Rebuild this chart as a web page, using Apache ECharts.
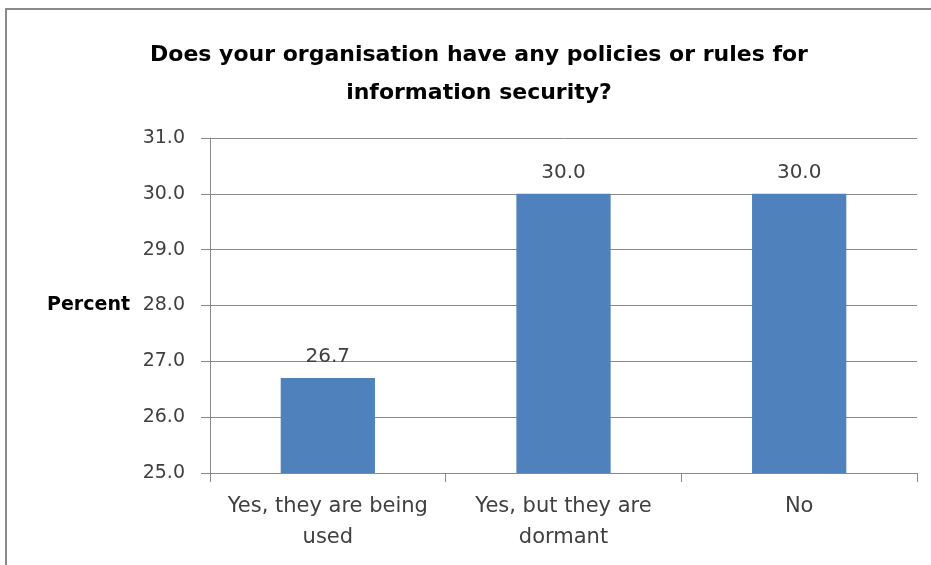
<!DOCTYPE html>
<html><head><meta charset="utf-8">
<script src="https://cdn.jsdelivr.net/npm/echarts@6/dist/echarts.min.js"></script>
<style>
html,body{margin:0;padding:0;background:#fff;}
#c{position:absolute;left:0;top:0;width:931px;height:565px;}
#frame{position:absolute;left:5px;top:8px;width:940px;height:600px;border-top:2px solid #8a8a8a;border-left:2px solid #8a8a8a;pointer-events:none;}
</style></head>
<body>
<div id="c"></div>
<div id="frame"></div>
<script>
var titleText = 'Does your organisation have any policies or rules for\ninformation security?';
var yAxisName = 'Percent';
var categories = ['Yes, they are being\nused', 'Yes, but they are\ndormant', 'No'];
var values = [26.7, 30.0, 30.0];
var yMin = 25, yMax = 31, yStep = 1;

var FONT = '"DejaVu Sans", sans-serif';
var chart = echarts.init(document.getElementById('c'), null, {renderer: 'canvas'});
chart.setOption({
  animation: false,
  backgroundColor: '#fff',
  title: {
    text: titleText,
    left: 474, top: 31, textAlign: 'center',
    textStyle: {fontFamily: FONT, fontWeight: 'bold', fontSize: 22, color: '#000', lineHeight: 38}
  },
  grid: {left: 210, right: 14, top: 138, bottom: 92, containLabel: false},
  graphic: [{
    type: 'text', x: 130, y: 305,
    style: {text: yAxisName, font: 'bold 19px ' + FONT, fill: '#000', align: 'right', verticalAlign: 'middle'}
  }],
  xAxis: {
    type: 'category', data: categories,
    axisLine: {lineStyle: {color: '#8a8a8a', width: 1}},
    axisTick: {show: true, length: 9, lineStyle: {color: '#8a8a8a'}},
    axisLabel: {fontFamily: FONT, fontSize: 21, color: '#404040', lineHeight: 31, margin: 18, interval: 0}
  },
  yAxis: {
    type: 'value', min: yMin, max: yMax, interval: yStep,
    axisLine: {show: true, lineStyle: {color: '#8a8a8a', width: 1}},
    axisTick: {show: true, length: 9, lineStyle: {color: '#8a8a8a'}},
    splitLine: {lineStyle: {color: '#8a8a8a', width: 1}},
    axisLabel: {fontFamily: FONT, fontSize: 19, color: '#404040', margin: 25,
      formatter: function(v){ return v.toFixed(1); }}
  },
  series: [{
    type: 'bar', data: values, barWidth: '40%',
    itemStyle: {color: '#4F81BD'},
    label: {show: true, position: 'top', distance: 11, fontFamily: FONT, fontSize: 20, color: '#404040',
      formatter: function(p){ return p.value.toFixed(1); }}
  }]
});
</script>
</body></html>
